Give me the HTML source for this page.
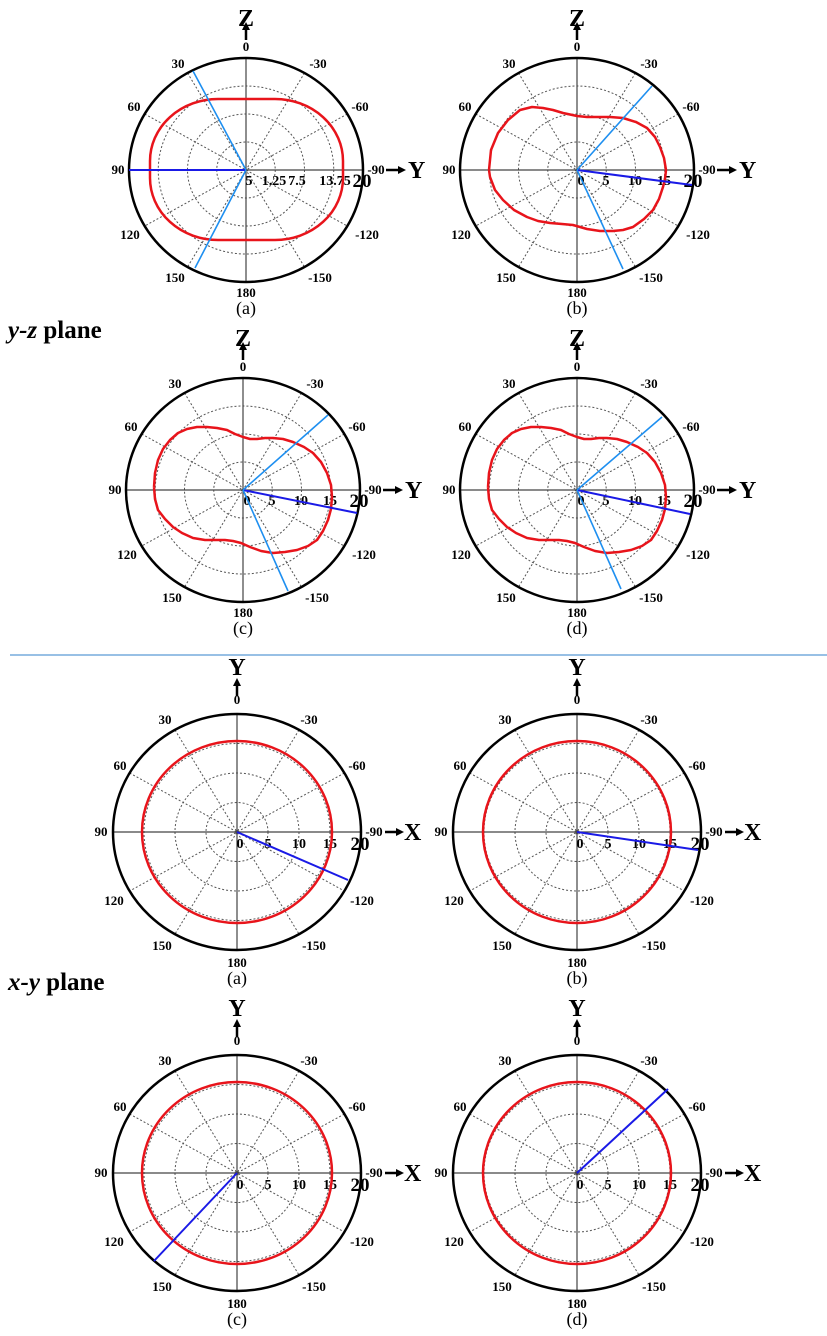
<!DOCTYPE html>
<html><head><meta charset="utf-8"><style>
html,body{margin:0;padding:0;background:#fff;}
svg{display:block;}
text{font-family:"Liberation Serif",serif;}
.a{font-size:13px;font-weight:bold;text-anchor:middle;}
.r{font-size:14px;font-weight:bold;text-anchor:middle;}
.big{font-size:19px;font-weight:bold;text-anchor:middle;}
.ax{font-size:24px;font-weight:bold;}
.cap{font-size:18px;text-anchor:middle;}
.t{font-size:25px;font-weight:bold;}
</style></head><body>
<svg width="827" height="1336" viewBox="0 0 827 1336" xmlns="http://www.w3.org/2000/svg">
<defs>
<g id="gyz">
 <g fill="none" stroke="#555" stroke-width="1" stroke-dasharray="2,2">
  <ellipse cx="0" cy="0" rx="29.25" ry="28"/>
  <ellipse cx="0" cy="0" rx="58.5" ry="56"/>
  <ellipse cx="0" cy="0" rx="87.75" ry="84"/>
  <line x1="-58.5" y1="-97" x2="58.5" y2="97"/>
  <line x1="58.5" y1="-97" x2="-58.5" y2="97"/>
  <line x1="-101.3" y1="-56" x2="101.3" y2="56"/>
  <line x1="101.3" y1="-56" x2="-101.3" y2="56"/>
 </g>
 <g stroke="#444" stroke-width="1.2">
  <line x1="-117" y1="0" x2="117" y2="0"/>
  <line x1="0" y1="-112" x2="0" y2="112"/>
 </g>
 <ellipse cx="0" cy="0" rx="117" ry="112" fill="none" stroke="#000" stroke-width="2.5"/>
 <g stroke="#000" stroke-width="2.5" fill="#000">
  <line x1="0" y1="-130" x2="0" y2="-141"/>
  <polygon points="-4,-140 4,-140 0,-148" stroke="none"/>
  <line x1="140" y1="0" x2="153" y2="0"/>
  <polygon points="152,-4 152,4 160,0" stroke="none"/>
 </g>
</g>
<g id="gxy">
 <g fill="none" stroke="#555" stroke-width="1" stroke-dasharray="2,2">
  <ellipse cx="0" cy="0" rx="31" ry="29.5"/>
  <ellipse cx="0" cy="0" rx="62" ry="59"/>
  <ellipse cx="0" cy="0" rx="93" ry="88.5"/>
  <line x1="-62" y1="-102" x2="62" y2="102"/>
  <line x1="62" y1="-102" x2="-62" y2="102"/>
  <line x1="-107.4" y1="-59" x2="107.4" y2="59"/>
  <line x1="107.4" y1="-59" x2="-107.4" y2="59"/>
 </g>
 <g stroke="#444" stroke-width="1.2">
  <line x1="-124" y1="0" x2="124" y2="0"/>
  <line x1="0" y1="-118" x2="0" y2="118"/>
 </g>
 <ellipse cx="0" cy="0" rx="124" ry="118" fill="none" stroke="#000" stroke-width="2.5"/>
 <g stroke="#000" stroke-width="2.5" fill="#000">
  <line x1="0" y1="-136" x2="0" y2="-147"/>
  <polygon points="-4,-146 4,-146 0,-154" stroke="none"/>
  <line x1="148" y1="0" x2="160" y2="0"/>
  <polygon points="159,-4 159,4 167,0" stroke="none"/>
 </g>
</g>
<g id="lyz">
 <text class="a" x="0" y="-119">0</text>
 <text class="a" x="-68" y="-102">30</text>
 <text class="a" x="72" y="-102">-30</text>
 <text class="a" x="-112" y="-59">60</text>
 <text class="a" x="114" y="-59">-60</text>
 <text class="a" x="-128" y="4">90</text>
 <text class="a" x="130" y="4">-90</text>
 <text class="a" x="-116" y="69">120</text>
 <text class="a" x="121" y="69">-120</text>
 <text class="a" x="-71" y="112">150</text>
 <text class="a" x="74" y="112">-150</text>
 <text class="a" x="0" y="127">180</text>
</g>
<g id="lxy">
 <text class="a" x="0" y="-128">0</text>
 <text class="a" x="-72" y="-108">30</text>
 <text class="a" x="72" y="-108">-30</text>
 <text class="a" x="-117" y="-62">60</text>
 <text class="a" x="120" y="-62">-60</text>
 <text class="a" x="-136" y="4">90</text>
 <text class="a" x="137" y="4">-90</text>
 <text class="a" x="-123" y="73">120</text>
 <text class="a" x="125" y="73">-120</text>
 <text class="a" x="-75" y="118">150</text>
 <text class="a" x="77" y="118">-150</text>
 <text class="a" x="0" y="135">180</text>
</g>
<g id="ryz">
 <text class="r" x="4" y="15">0</text>
 <text class="r" x="29" y="15">5</text>
 <text class="r" x="58" y="15">10</text>
 <text class="r" x="87" y="15">15</text>
 <text class="big" x="116" y="17">20</text>
</g>
<g id="rxy">
 <text class="r" x="3" y="16">0</text>
 <text class="r" x="31" y="16">5</text>
 <text class="r" x="62" y="16">10</text>
 <text class="r" x="93" y="16">15</text>
 <text class="big" x="123" y="18">20</text>
</g>
</defs>

<g transform="translate(246,170)">
 <use href="#gyz"/><use href="#lyz"/>
 <text class="ax" x="0" y="-144" text-anchor="middle">Z</text>
 <text class="ax" x="162" y="8">Y</text>
 <text class="r" x="3" y="15">5</text>
 <text class="r" x="28" y="15">1.25</text>
 <text class="r" x="51" y="15">7.5</text>
 <text class="r" x="89" y="15">13.75</text>
 <text class="big" x="116" y="17">20</text>
 <text class="cap" x="0" y="144">(a)</text>
</g>
<rect x="150" y="99" width="193" height="141" rx="68" ry="62" fill="none" stroke="#e8141b" stroke-width="2.5"/>
<line x1="246" y1="170" x2="129" y2="170" stroke="#1a1ae6" stroke-width="2"/>
<line x1="246" y1="170" x2="193" y2="71" stroke="#1e8ff0" stroke-width="1.6"/>
<line x1="246" y1="170" x2="195" y2="268" stroke="#1e8ff0" stroke-width="1.6"/>

<g transform="translate(577,170)">
 <use href="#gyz"/><use href="#lyz"/><use href="#ryz"/>
 <text class="ax" x="0" y="-144" text-anchor="middle">Z</text>
 <text class="ax" x="162" y="8">Y</text>
 <text class="cap" x="0" y="144">(b)</text>
</g>
<polyline fill="none" stroke="#e8141b" stroke-width="2.5" stroke-linejoin="round" points="489,170 491,150 498,133 508,120 520,110 532,107 543,108 553,110 563,113 577,116 587,117 597,117 610,117 623,118 636,122 647,128 655,137 660,147 664,158 666,170 665,179 663,187 659,199 653,210 644,219 633,227 623,230 613,231 600,231 587,229 573,225 562,224 550,223 538,221 527,217 514,210 503,200 495,190 490,177 489,170"/>
<line x1="577" y1="170" x2="692" y2="185" stroke="#1a1ae6" stroke-width="2"/>
<line x1="577" y1="170" x2="652" y2="86" stroke="#1e8ff0" stroke-width="1.6"/>
<line x1="577" y1="170" x2="623" y2="269" stroke="#1e8ff0" stroke-width="1.6"/>

<text x="8" y="338" class="t"><tspan font-style="italic">y-z</tspan> plane</text>

<g transform="translate(243,490)">
 <use href="#gyz"/><use href="#lyz"/><use href="#ryz"/>
 <text class="ax" x="0" y="-144" text-anchor="middle">Z</text>
 <text class="ax" x="162" y="8">Y</text>
 <text class="cap" x="0" y="144">(c)</text>
</g>
<polyline id="pc" fill="none" stroke="#e8141b" stroke-width="2.5" stroke-linejoin="round" points="154,487 155,473 158,460 163,449 170,440 178,433 187,429 197,427 207,427 217,428 227,430 235,434 243,437 250,439 257,439 265,438 273,438 283,439 293,442 304,447 313,453 321,462 327,473 331,485 332,497 331,509 328,520 323,531 317,540 308,546 297,550 285,552 273,553 261,551 250,547 241,543 233,541 225,540 217,540 205,540 193,538 182,533 173,527 165,519 158,510 155,499 154,487"/>
<line x1="243" y1="490" x2="357" y2="513" stroke="#1a1ae6" stroke-width="2"/>
<line x1="243" y1="490" x2="328" y2="415" stroke="#1e8ff0" stroke-width="1.6"/>
<line x1="243" y1="490" x2="288" y2="591" stroke="#1e8ff0" stroke-width="1.6"/>

<g transform="translate(577,490)">
 <use href="#gyz"/><use href="#lyz"/><use href="#ryz"/>
 <text class="ax" x="0" y="-144" text-anchor="middle">Z</text>
 <text class="ax" x="162" y="8">Y</text>
 <text class="cap" x="0" y="144">(d)</text>
</g>
<use href="#pc" transform="translate(334,0)"/>
<line x1="577" y1="490" x2="690" y2="514" stroke="#1a1ae6" stroke-width="2"/>
<line x1="577" y1="490" x2="662" y2="417" stroke="#1e8ff0" stroke-width="1.6"/>
<line x1="577" y1="490" x2="621" y2="589" stroke="#1e8ff0" stroke-width="1.6"/>

<line x1="10" y1="655" x2="827" y2="655" stroke="#5b9bd5" stroke-width="1.3"/>

<g transform="translate(237,832)">
 <use href="#gxy"/><use href="#lxy"/><use href="#rxy"/>
 <text class="ax" x="0" y="-157" text-anchor="middle">Y</text>
 <text class="ax" x="167" y="8">X</text>
 <text class="cap" x="0" y="152">(a)</text>
 <ellipse cx="0" cy="0" rx="95" ry="91" fill="none" stroke="#e8141b" stroke-width="2.5"/>
 <line x1="0" y1="0" x2="111" y2="48" stroke="#1a1ae6" stroke-width="2"/>
</g>

<g transform="translate(577,832)">
 <use href="#gxy"/><use href="#lxy"/><use href="#rxy"/>
 <text class="ax" x="0" y="-157" text-anchor="middle">Y</text>
 <text class="ax" x="167" y="8">X</text>
 <text class="cap" x="0" y="152">(b)</text>
 <ellipse cx="0" cy="0" rx="94" ry="91" fill="none" stroke="#e8141b" stroke-width="2.5"/>
 <line x1="0" y1="0" x2="121" y2="18" stroke="#1a1ae6" stroke-width="2"/>
</g>

<text x="8" y="990" class="t"><tspan font-style="italic">x-y</tspan> plane</text>

<g transform="translate(237,1173)">
 <use href="#gxy"/><use href="#lxy"/><use href="#rxy"/>
 <text class="ax" x="0" y="-157" text-anchor="middle">Y</text>
 <text class="ax" x="167" y="8">X</text>
 <text class="cap" x="0" y="152">(c)</text>
 <ellipse cx="0" cy="0" rx="95" ry="91" fill="none" stroke="#e8141b" stroke-width="2.5"/>
 <line x1="0" y1="0" x2="-83" y2="88" stroke="#1a1ae6" stroke-width="2"/>
</g>

<g transform="translate(577,1173)">
 <use href="#gxy"/><use href="#lxy"/><use href="#rxy"/>
 <text class="ax" x="0" y="-157" text-anchor="middle">Y</text>
 <text class="ax" x="167" y="8">X</text>
 <text class="cap" x="0" y="152">(d)</text>
 <ellipse cx="0" cy="0" rx="94" ry="91" fill="none" stroke="#e8141b" stroke-width="2.5"/>
 <line x1="0" y1="0" x2="91" y2="-84" stroke="#1a1ae6" stroke-width="2"/>
</g>
</svg>
</body></html>
